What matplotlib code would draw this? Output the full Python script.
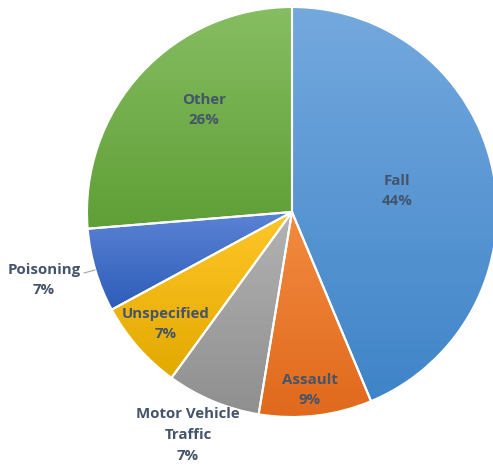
import matplotlib.pyplot as plt
import numpy as np
from matplotlib.colors import LinearSegmentedColormap

categories = ["Fall", "Assault", "Motor Vehicle\nTraffic", "Unspecified", "Poisoning", "Other"]
shares = [43.7, 8.9, 7.4, 7.1, 6.6, 26.3]
# gradient colours per slice (top, bottom)
top_colors = ["#74a9de", "#f28b40", "#b3b3b3", "#ffc629", "#5b83d5", "#86bd62"]
bottom_colors = ["#3f84c8", "#e0691c", "#8f8f8f", "#e2a900", "#2d5cb8", "#5f9f36"]

# label centres in pixel coords (y from top)
label_pos = [(397, 191), (310, 390), (188, 435), (166, 324), (44, 280), (204, 110)]

W, H = 493, 466
fig = plt.figure(figsize=(W / 100, H / 100), dpi=100)
ax = fig.add_axes([0, 0, 1, 1])

cx, cy, r = 292, H - 212, 205
wedges, _ = ax.pie(shares, colors=top_colors, startangle=90, counterclock=False,
                   center=(cx, cy), radius=r, frame=True,
                   wedgeprops=dict(linewidth=0))
ax.set_xlim(0, W)
ax.set_ylim(0, H)
ax.set_aspect("equal")
ax.axis("off")

# vertical gradient inside each slice: lighter top, darker bottom
for w, ct, cb in zip(wedges, top_colors, bottom_colors):
    ext = w.get_path().get_extents()
    cmap = LinearSegmentedColormap.from_list("g", [cb, ct])
    grad = np.linspace(0, 1, 256).reshape(-1, 1)
    im = ax.imshow(grad, cmap=cmap, origin="lower", aspect="auto",
                   extent=(ext.x0, ext.x1, ext.y0, ext.y1), zorder=2)
    im.set_clip_path(w)
    w.set_facecolor("none")
    w.set_edgecolor("white")
    w.set_linewidth(1.5)
    w.set_zorder(3)
ax.set_xlim(0, W)
ax.set_ylim(0, H)

# leader line for Poisoning
ax.plot([84, 95], [H - 273, H - 270], color="#a6a6a6", lw=0.8, zorder=4)

for cat, s, (x, y) in zip(categories, shares, label_pos):
    ax.text(x, H - y, f"{cat}\n{round(s):.0f}%", ha="center", va="center",
            fontsize=10.8, fontweight="bold", color="#44546a",
            family="Open Sans", linespacing=1.6, zorder=5)

fig.savefig("out.png", dpi=100)
